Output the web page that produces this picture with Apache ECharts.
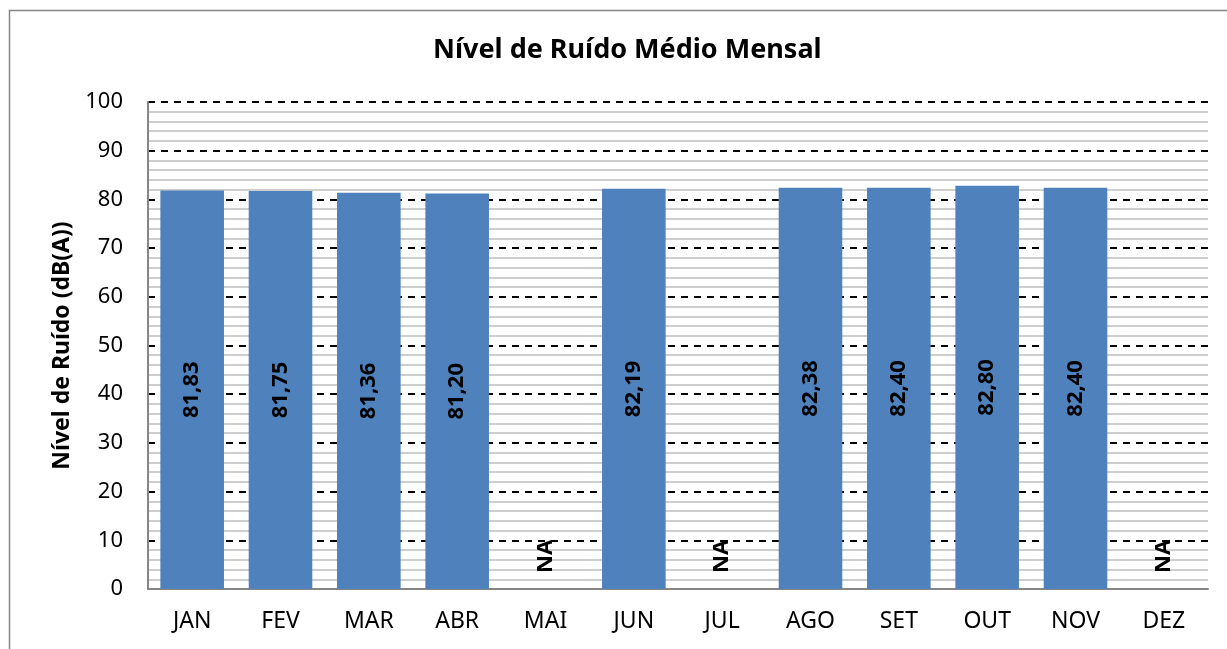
<!DOCTYPE html>
<html>
<head>
    <meta charset="utf-8">
    <title>Nível de Ruído Médio Mensal</title>
    <script src="https://cdn.jsdelivr.net/npm/echarts@6/dist/echarts.min.js"></script>
    <style>
        html, body { margin: 0; padding: 0; background: #fff; }
        #chart { width: 1227px; height: 649px; }
    </style>
</head>
<body>
<div id="chart"></div>
<script type="text/javascript">
    // meses e valores (null = NA)
    const months = ['JAN', 'FEV', 'MAR', 'ABR', 'MAI', 'JUN', 'JUL', 'AGO', 'SET', 'OUT', 'NOV', 'DEZ'];
    const noiseLevels = [81.83, 81.75, 81.36, 81.20, null, 82.19, null, 82.38, 82.40, 82.80, 82.40, null];
    const yTicks = [0, 10, 20, 30, 40, 50, 60, 70, 80, 90, 100];

    const FONT = 'Noto Sans';

    const barData = noiseLevels.map(function (v) {
        if (v === null) {
            return {
                value: 0,
                label: {
                    show: true,
                    position: 'insideBottom',
                    rotate: 90,
                    align: 'left',
                    verticalAlign: 'middle',
                    distance: 16,
                    formatter: 'NA'
                }
            };
        }
        return v;
    });

    const chart = echarts.init(document.getElementById('chart'));
    const option = {
        animation: false,
        textStyle: { fontFamily: FONT },
        title: {
            text: 'Nível de Ruído Médio Mensal',
            left: 428,
            top: 32,
            textStyle: { fontFamily: FONT, fontSize: 27, fontWeight: 'bold', color: '#000' }
        },
        graphic: [{
            type: 'rect',
            shape: { x: 9.5, y: 10.5, width: 1400, height: 800 },
            style: { fill: 'none', stroke: '#868686', lineWidth: 1.5 },
            silent: true
        }],
        grid: { left: 148, right: 19, top: 102, bottom: 60 },
        xAxis: {
            type: 'category',
            data: months,
            axisLine: { lineStyle: { color: '#868686', width: 2 } },
            axisTick: { show: false },
            axisLabel: { color: '#000', fontSize: 23, margin: 21, fontFamily: FONT }
        },
        yAxis: {
            type: 'value',
            min: yTicks[0],
            max: yTicks[yTicks.length - 1],
            interval: 10,
            name: 'Nível de Ruído (dB(A))',
            nameLocation: 'middle',
            nameGap: 74,
            nameTextStyle: { fontFamily: FONT, fontSize: 23, fontWeight: 'bold', color: '#000' },
            axisLine: { show: true, lineStyle: { color: '#868686', width: 2 } },
            axisTick: { show: false },
            axisLabel: { color: '#000', fontSize: 22, margin: 25, fontFamily: FONT },
            splitLine: { show: true, lineStyle: { color: '#000', type: [7, 6], width: 1.8 } },
            minorTick: { show: false, splitNumber: 5 },
            minorSplitLine: { show: true, lineStyle: { color: '#bfbfbf', width: 1.5 } }
        },
        series: [{
            type: 'bar',
            data: barData,
            barCategoryGap: '28%',
            itemStyle: { color: '#4F81BD' },
            label: {
                show: true,
                position: 'inside',
                rotate: 90,
                color: '#000',
                fontFamily: FONT,
                fontSize: 22,
                fontWeight: 'bold',
                formatter: function (p) {
                    return p.value.toFixed(2).replace('.', ',');
                }
            }
        }]
    };
    chart.setOption(option);
</script>
</body>
</html>
